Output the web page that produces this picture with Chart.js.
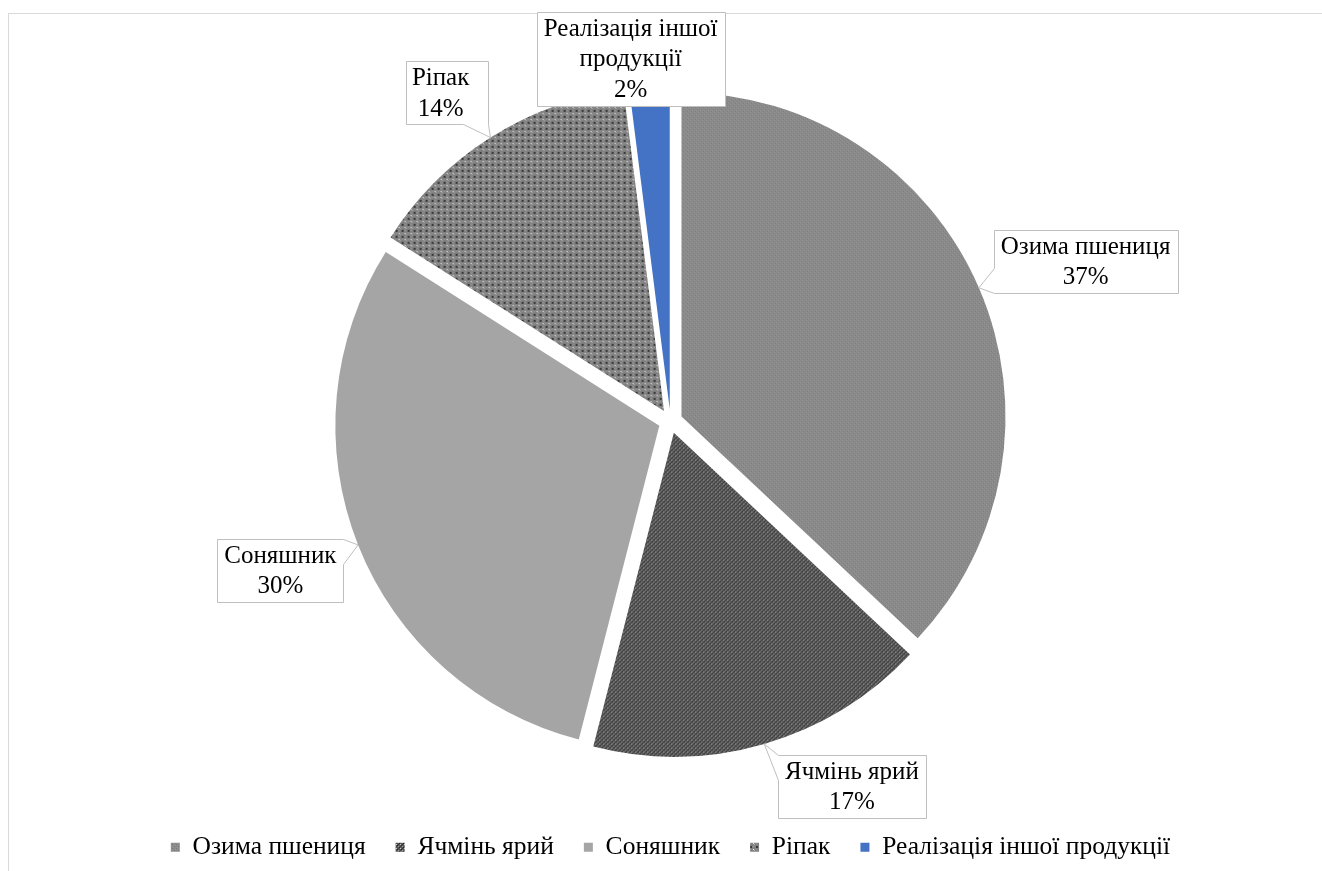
<!DOCTYPE html>
<html><head><meta charset="utf-8">
<script src="https://cdn.jsdelivr.net/npm/chart.js@4.4.1/dist/chart.umd.min.js"></script>
<style>
html,body{margin:0;padding:0;background:#fff;width:1322px;height:871px;overflow:hidden}
#frame{position:absolute;left:8px;top:13px;width:1400px;height:900px;border:1px solid #d9d9d9;box-sizing:border-box}
#wrap{position:absolute;left:0;top:0;width:1322px;height:871px}
</style></head><body>
<div id="frame"></div>
<div id="wrap"><canvas id="c" width="1322" height="871"></canvas></div>
<script>
// ---- data ----
const categories = ['Озима пшениця', 'Ячмінь ярий', 'Соняшник', 'Ріпак', 'Реалізація іншої продукції'];
const shares = [37, 17, 30, 14, 2];
const calloutNames = [['Озима пшениця'], ['Ячмінь ярий'], ['Соняшник'], ['Ріпак'], ['Реалізація іншої', 'продукції']];

// ---- styling ----
const FONT = "'Liberation Serif', 'Times New Roman', serif";
Chart.defaults.font.family = FONT;
const EXPLODE = 12;
const canvas = document.getElementById('c');
const cctx = canvas.getContext('2d');

function makePattern(size, base, pixels) {
  const c = document.createElement('canvas');
  c.width = c.height = size;
  const g = c.getContext('2d');
  g.fillStyle = base; g.fillRect(0, 0, size, size);
  pixels.forEach(([x, y, col]) => { g.fillStyle = col; g.fillRect(x, y, 1, 1); });
  return cctx.createPattern(c, 'repeat');
}
const patOzyma = makePattern(4, '#8b8b8b', [[0,0,'#7a7a7a'],[2,2,'#7a7a7a'],[1,3,'#999999'],[3,1,'#999999']]);
const patYachmin = makePattern(4, '#585858', [[0,0,'#c8c8c8'],[2,2,'#a0a0a0'],[1,1,'#222'],[3,3,'#222'],[2,0,'#404040'],[0,2,'#404040']]);
const patRipak = makePattern(6, '#828282', [[0,0,'#383838'],[1,0,'#383838'],[0,1,'#383838'],[1,1,'#383838'],[3,3,'#f2f2f2'],[4,4,'#b0b0b0'],[3,0,'#999'],[0,3,'#999']]);
const fills = [patOzyma, patYachmin, '#a5a5a5', patRipak, '#4472c4'];

// callout box placement relative to pie centre (in radii)
const boxPlace = [
  {rx: 1.281, ry: -0.494},
  {rx: 0.560, ry: 1.127},
  {rx: -1.204, ry: 0.460},
  {rx: -0.691, ry: -1.014, minW: 82, textDx: -6},
  {rx: -0.123, ry: -1.119}
];

const explodePlugin = {
  id: 'explode',
  beforeDatasetDraw(chart, args) {
    const ctx = chart.ctx;
    args.meta.data.forEach(arc => {
      const mid = (arc.startAngle + arc.endAngle) / 2;
      ctx.save();
      ctx.translate(Math.cos(mid) * EXPLODE, Math.sin(mid) * EXPLODE);
      arc.draw(ctx);
      ctx.restore();
    });
    return false;
  }
};

function calloutPath(ctx, L, T, W, H, tip) {
  const R = L + W, B = T + H;
  const inside = tip.x >= L && tip.x <= R && tip.y >= T && tip.y <= B;
  ctx.beginPath();
  if (inside) { ctx.rect(L, T, W, H); return; }
  const ox = tip.x < L ? L - tip.x : (tip.x > R ? tip.x - R : 0);
  const oy = tip.y < T ? T - tip.y : (tip.y > B ? tip.y - B : 0);
  let side;
  if (ox >= oy) side = tip.x < L ? 'left' : 'right'; else side = tip.y < T ? 'top' : 'bottom';
  const clamp = (v, a, b) => Math.max(a, Math.min(b, v));
  ctx.moveTo(L, T);
  if (side === 'top') {
    const b = Math.min(25, W * 0.4);
    const x1 = clamp(tip.x - b / 2, L, R - b);
    ctx.lineTo(x1, T); ctx.lineTo(tip.x, tip.y); ctx.lineTo(x1 + b, T);
  }
  ctx.lineTo(R, T);
  if (side === 'right') {
    const b = Math.min(25, H * 0.4);
    const y1 = clamp(tip.y - b / 2, T, B - b);
    ctx.lineTo(R, y1); ctx.lineTo(tip.x, tip.y); ctx.lineTo(R, y1 + b);
  }
  ctx.lineTo(R, B);
  if (side === 'bottom') {
    const b = Math.min(25, W * 0.4);
    const x1 = clamp(tip.x - b / 2, L, R - b);
    ctx.lineTo(x1 + b, B); ctx.lineTo(tip.x, tip.y); ctx.lineTo(x1, B);
  }
  ctx.lineTo(L, B);
  if (side === 'left') {
    const b = Math.min(25, H * 0.4);
    const y1 = clamp(tip.y - b / 2, T, B - b);
    ctx.lineTo(L, y1 + b); ctx.lineTo(tip.x, tip.y); ctx.lineTo(L, y1);
  }
  ctx.closePath();
}

const calloutPlugin = {
  id: 'callouts',
  afterDraw(chart) {
    const ctx = chart.ctx;
    const meta = chart.getDatasetMeta(0);
    const total = shares.reduce((a, b) => a + b, 0);
    ctx.save();
    ctx.font = '25px ' + FONT;
    const lineH = 30.5;
    meta.data.forEach((arc, i) => {
      const mid = (arc.startAngle + arc.endAngle) / 2;
      const R = arc.outerRadius;
      const tip = {x: arc.x + Math.cos(mid) * (R + EXPLODE), y: arc.y + Math.sin(mid) * (R + EXPLODE)};
      const lines = calloutNames[i].concat([Math.round(shares[i] / total * 100) + '%']);
      const tw = Math.max(...lines.map(l => ctx.measureText(l).width));
      const W = Math.round(Math.max(tw + 14, boxPlace[i].minW || 0));
      const H = Math.round(lines.length * lineH + 2);
      const bx = arc.x + boxPlace[i].rx * R, by = arc.y + boxPlace[i].ry * R;
      const L = Math.round(bx - W / 2) + 0.5, T = Math.round(by - H / 2) + 0.5;
      calloutPath(ctx, L, T, W, H, tip);
      ctx.fillStyle = '#ffffff'; ctx.fill();
      ctx.strokeStyle = '#bfbfbf'; ctx.lineWidth = 1; ctx.stroke();
      ctx.fillStyle = '#000000';
      ctx.textAlign = 'center'; ctx.textBaseline = 'middle';
      const tx = bx + (boxPlace[i].textDx || 0);
      lines.forEach((l, k) => {
        ctx.fillText(l, tx, by + (k - (lines.length - 1) / 2) * lineH + 1);
      });
    });
    ctx.restore();
  }
};

new Chart(canvas, {
  type: 'pie',
  data: {
    labels: categories,
    datasets: [{
      data: shares,
      backgroundColor: fills,
      borderWidth: 0,
      hoverOffset: 0
    }]
  },
  options: {
    responsive: false,
    animation: false,
    devicePixelRatio: 1,
    radius: 324,
    layout: {padding: {top: 38, bottom: 1, left: 19, right: 0}},
    events: [],
    plugins: {
      tooltip: {enabled: false},
      legend: {
        position: 'bottom',
        labels: {
          font: {family: FONT, size: 25.5},
          color: '#000000',
          boxWidth: 9,
          boxHeight: 9,
          padding: 30
        }
      }
    }
  },
  plugins: [explodePlugin, calloutPlugin]
});
</script>
</body></html>
